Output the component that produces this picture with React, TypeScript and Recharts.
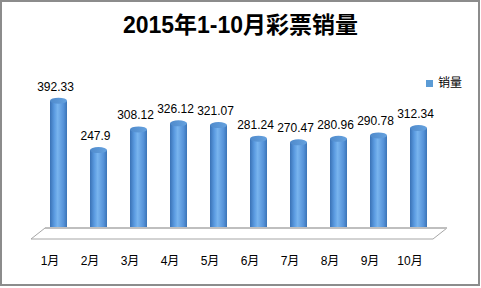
import { Bar, BarChart, LabelList, ReferenceLine, XAxis, YAxis } from "recharts";

const MONTHS = ["1月", "2月", "3月", "4月", "5月", "6月", "7月", "8月", "9月", "10月"];
const SALES = [392.33, 247.9, 308.12, 326.12, 321.07, 281.24, 270.47, 280.96, 290.78, 312.34];

const chartData = MONTHS.map((month, i) => ({ month, sales: SALES[i] }));
const FONT = "'Liberation Sans', 'Noto Sans CJK SC', sans-serif";

function Cylinder(props: any) {
  const { x, y, width, height } = props;
  if (height <= 0) return null;
  const cx = x + width / 2;
  const ry = 3;
  return (
    <g>
      <path
        d={`M${x},${y} L${x},${y + height} A${width / 2},${ry} 0 0 0 ${x + width},${y + height} L${x + width},${y} Z`}
        fill="url(#cyl)"
      />
      <ellipse cx={cx} cy={y} rx={width / 2} ry={ry} fill="url(#cylTop)" />
    </g>
  );
}

function Floor(props: any) {
  const { x1, x2, y1 } = props;
  const pts = [
    [x1 - 7, y1 + 4],
    [x2 - 5, y1 + 4],
    [x2 + 9, y1 - 7],
    [x1 + 7, y1 - 7],
  ];
  return (
    <g>
      <polygon points={pts.map((p) => p.join(",")).join(" ")} fill="#fff" stroke="#a6a6a6" strokeWidth={1} />
      <line x1={x1 + 7} y1={y1 - 7} x2={x2 + 9} y2={y1 - 7} stroke="#bfbfbf" strokeWidth={2} />
    </g>
  );
}

export default function App() {
  return (
    <div
      style={{
        position: "fixed",
        left: 0,
        top: 0,
        width: 480,
        height: 286,
        border: "2px solid #8c8c8c",
        boxSizing: "border-box",
        background: "#fff",
      }}
    >
      <div
        style={{
          position: "absolute",
          left: -2,
          top: 9,
          width: 481,
          textAlign: "center",
          fontFamily: FONT,
          fontWeight: "bold",
          fontSize: 23,
          lineHeight: "28px",
        }}
      >
        2015年1-10月彩票销量
      </div>
      <div
        style={{
          position: "absolute",
          left: 424,
          top: 74,
          display: "flex",
          alignItems: "center",
          fontFamily: FONT,
          fontSize: 12,
          lineHeight: "14px",
          zIndex: 2,
        }}
      >
        <span style={{ width: 7, height: 7, background: "#5b9bd5", marginRight: 5 }} />
        销量
      </div>
      <div style={{ position: "absolute", left: -2, top: -2 }}>
        <BarChart width={481} height={288} data={chartData} margin={{ top: 98, right: 43, left: 38, bottom: 23 }}>
          <defs>
            <linearGradient id="cyl" x1="0" y1="0" x2="1" y2="0">
              <stop offset="0%" stopColor="#3a72b5" />
              <stop offset="25%" stopColor="#5a9ae0" />
              <stop offset="45%" stopColor="#78b4ee" />
              <stop offset="80%" stopColor="#5592d8" />
              <stop offset="100%" stopColor="#3b74b6" />
            </linearGradient>
            <linearGradient id="cylTop" x1="0" y1="0" x2="1" y2="0">
              <stop offset="0%" stopColor="#4f8acb" />
              <stop offset="100%" stopColor="#66a2df" />
            </linearGradient>
          </defs>
          <XAxis
            dataKey="month"
            height={30}
            axisLine={false}
            tickLine={false}
            tickSize={0}
            tickMargin={21}
            dx={-8}
            interval={0}
            tick={{ fill: "#000", fontSize: 12, fontFamily: FONT }}
          />
          <YAxis hide domain={[0, 400]} />
          <ReferenceLine y={0} shape={Floor} />
          <Bar dataKey="sales" barSize={17} shape={Cylinder} isAnimationActive={false}>
            <LabelList
              dataKey="sales"
              position="top"
              offset={10}
              dx={-3}
              style={{ fill: "#000", fontSize: 12, fontFamily: FONT }}
            />
          </Bar>
        </BarChart>
      </div>
    </div>
  );
}
